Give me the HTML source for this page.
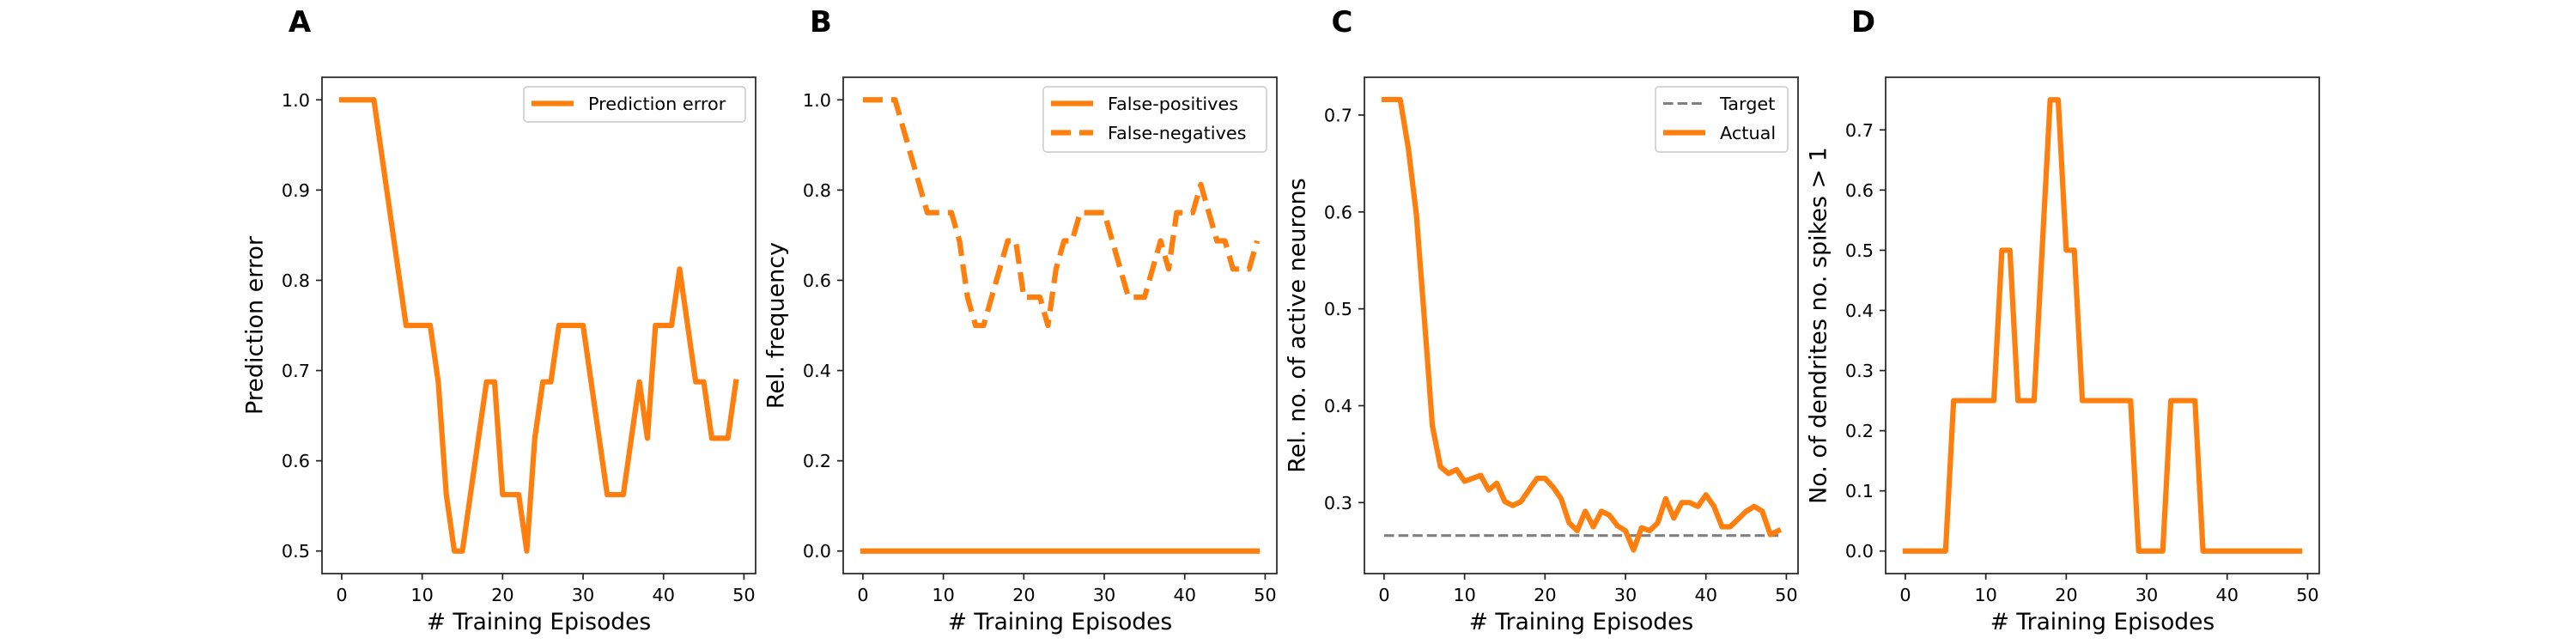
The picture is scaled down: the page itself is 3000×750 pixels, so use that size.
<!DOCTYPE html>
<html><head><meta charset="utf-8">
<style>
html,body{margin:0;padding:0;background:#fff;}
svg{display:block;font-family:"DejaVu Sans","Liberation Sans",sans-serif;}
</style></head>
<body>
<svg id="fig" width="3000" height="750" viewBox="0 0 3000 750" xmlns="http://www.w3.org/2000/svg"></svg>
<script>
const episodes = Array.from({length:50},(_, i)=>i);
const predictionError = [1,1,1,1,1,0.9375,0.875,0.8125,0.75,0.75,0.75,0.75,0.6875,0.5625,0.5,0.5,0.5625,0.625,0.6875,0.6875,0.5625,0.5625,0.5625,0.5,0.625,0.6875,0.6875,0.75,0.75,0.75,0.75,0.6875,0.625,0.5625,0.5625,0.5625,0.625,0.6875,0.625,0.75,0.75,0.75,0.8125,0.75,0.6875,0.6875,0.625,0.625,0.625,0.6875];
const falsePositives = new Array(50).fill(0);
const falseNegatives = [1,1,1,1,1,0.9375,0.875,0.8125,0.75,0.75,0.75,0.75,0.6875,0.5625,0.5,0.5,0.5625,0.625,0.6875,0.6875,0.5625,0.5625,0.5625,0.5,0.625,0.6875,0.6875,0.75,0.75,0.75,0.75,0.6875,0.625,0.5625,0.5625,0.5625,0.625,0.6875,0.625,0.75,0.75,0.75,0.8125,0.75,0.6875,0.6875,0.625,0.625,0.625,0.6875];
const activeNeurons = [0.716,0.716,0.716,0.666,0.598,0.49,0.379,0.337,0.330,0.334,0.322,0.325,0.328,0.313,0.320,0.301,0.297,0.301,0.313,0.325,0.325,0.316,0.304,0.279,0.271,0.291,0.275,0.291,0.287,0.276,0.271,0.251,0.274,0.271,0.279,0.304,0.284,0.300,0.300,0.296,0.308,0.296,0.275,0.275,0.283,0.291,0.296,0.291,0.267,0.271];
const targetValue = [0.266];
const dendrites = [0,0,0,0,0,0,0.25,0.25,0.25,0.25,0.25,0.25,0.5,0.5,0.25,0.25,0.25,0.5,0.75,0.75,0.5,0.5,0.25,0.25,0.25,0.25,0.25,0.25,0.25,0,0,0,0,0.25,0.25,0.25,0.25,0,0,0,0,0,0,0,0,0,0,0,0,0];
const xTicks = [0,10,20,30,40,50];
const yTicksA = [0.5,0.6,0.7,0.8,0.9,1.0];
const yTicksB = [0.0,0.2,0.4,0.6,0.8,1.0];
const yTicksC = [0.3,0.4,0.5,0.6,0.7];
const yTicksD = [0.0,0.1,0.2,0.3,0.4,0.5,0.6,0.7];

const NS="http://www.w3.org/2000/svg";
const svg=document.getElementById('fig');
const ORANGE="#ff7f0e";
function mk(tag,attrs,parent){const e=document.createElementNS(NS,tag);for(const k in attrs)e.setAttribute(k,attrs[k]);(parent||svg).appendChild(e);return e;}

const TOP=90,BOT=668,W=505;
function panel(cfg){
  const L=cfg.left,R=L+W;
  const g=mk('g',{});
  
  
  const sx=v=>L+(v-cfg.xmin)/(cfg.xmax-cfg.xmin)*W;
  const sy=v=>BOT-(v-cfg.ymin)/(cfg.ymax-cfg.ymin)*(BOT-TOP);
  // series
  cfg.series.forEach(s=>{
    const d=s.xs.map((x,i)=>(i?'L':'M')+sx(x).toFixed(2)+' '+sy(s.ys[i]).toFixed(2)).join(' ');
    const p=mk('path',{d:d,fill:'none',stroke:s.color,'stroke-width':s.width,'stroke-linejoin':'round','stroke-linecap':s.dash?'butt':'square'},g);
    if(s.dash)p.setAttribute('stroke-dasharray',s.dash);
    
    
  });
  // frame
  const fr=mk('rect',{x:L,y:TOP,width:W,height:BOT-TOP,fill:'none',stroke:'#222','stroke-width':1.7},g);
  
  
  // x ticks
  xTicks.forEach(t=>{
    const x=sx(t);
    mk('line',{x1:x,x2:x,y1:BOT,y2:BOT+7,stroke:'#222','stroke-width':1.7},g);
    const tx=mk('text',{x:x,y:700,'font-size':20.8,'text-anchor':'middle',fill:'#000'},g);
    tx.textContent=String(t);
    
    
  });
  cfg.yTicks.forEach(t=>{
    const y=sy(t);
    mk('line',{x1:L-7,x2:L,y1:y,y2:y,stroke:'#222','stroke-width':1.7},g);
    const tx=mk('text',{x:L-14,y:y+7.5,'font-size':20.8,'text-anchor':'end',fill:'#000'},g);
    tx.textContent=t.toFixed(1);
    
    
  });
  const xl=mk('text',{x:L+W/2,y:733,'font-size':26.5,'text-anchor':'middle',fill:'#000'},g);
  xl.textContent='# Training Episodes';
  
  
  const yc=(TOP+BOT)/2, yx=L-78;
  const yl=mk('text',{x:yx,y:yc,'font-size':27,'text-anchor':'middle','dominant-baseline':'central',fill:'#000',transform:`rotate(-90 ${yx} ${yc})`},g);
  yl.textContent=cfg.ylabel;
  
  
  const pl=mk('text',{x:L-26,y:37,'font-size':34,'font-weight':'bold','text-anchor':'middle',fill:'#000'},g);
  pl.textContent=cfg.letter;
  
  
  // legend
  if(cfg.legend){
    const lg=cfg.legend, n=lg.entries.length;
    const bw=lg.width, bh=n===1?41:76;
    const bx=R-12-bw, by=101;
    const lgG=mk('g',{},g);
    
    
    mk('rect',{x:bx,y:by,width:bw,height:bh,rx:4,fill:'#fff','fill-opacity':0.8,stroke:'#d0d0d0','stroke-width':1.7},lgG);
    lg.entries.forEach((e,i)=>{
      const cy=120.5+i*34;
      const ln=mk('line',{x1:bx+9,x2:bx+58,y1:cy,y2:cy,stroke:e.color,'stroke-width':e.width},lgG);
      if(e.dash)ln.setAttribute('stroke-dasharray',e.dash);
      
      
      const t=mk('text',{x:bx+75,y:cy+7.5,'font-size':20.8,fill:'#000'},lgG);
      t.textContent=e.label;
      
      
    });
  }
}
const xmin=-2.45,xmax=51.45;
panel({name:'panel-a',left:375,letter:'A',xmin,xmax,ymin:0.475,ymax:1.025,yTicks:yTicksA,ylabel:'Prediction error',
  series:[{name:'prediction-error-line',xs:episodes,ys:predictionError,color:ORANGE,width:6.2}],
  legend:{width:258,entries:[{label:'Prediction error',color:ORANGE,width:6.2}]}});
panel({name:'panel-b',left:982,letter:'B',xmin,xmax,ymin:-0.05,ymax:1.05,yTicks:yTicksB,ylabel:'Rel. frequency',
  series:[{name:'false-positives-line',xs:episodes,ys:falsePositives,color:ORANGE,width:6.2},
          {name:'false-negatives-line',xs:episodes,ys:falseNegatives,color:ORANGE,width:6.2,dash:'23 10'}],
  legend:{width:260,entries:[{label:'False-positives',color:ORANGE,width:6.2},{label:'False-negatives',color:ORANGE,width:6.2,dash:'23 10'}]}});
panel({name:'panel-c',left:1589,letter:'C',xmin,xmax,ymin:0.2267,ymax:0.739,yTicks:yTicksC,ylabel:'Rel. no. of active neurons',
  series:[{name:'target-line',xs:[0,49],ys:[targetValue[0],targetValue[0]],color:'#808080',width:3.1,dash:'11.6 5'},
          {name:'actual-line',xs:episodes,ys:activeNeurons,color:ORANGE,width:6.2}],
  legend:{width:154,entries:[{label:'Target',color:'#808080',width:3.1,dash:'11.6 5'},{label:'Actual',color:ORANGE,width:6.2}]}});
panel({name:'panel-d',left:2196,letter:'D',xmin,xmax,ymin:-0.0375,ymax:0.7875,yTicks:yTicksD,ylabel:'No. of dendrites no. spikes > 1',
  series:[{name:'dendrites-line',xs:episodes,ys:dendrites,color:ORANGE,width:6.2}]});
</script>
</body></html>
